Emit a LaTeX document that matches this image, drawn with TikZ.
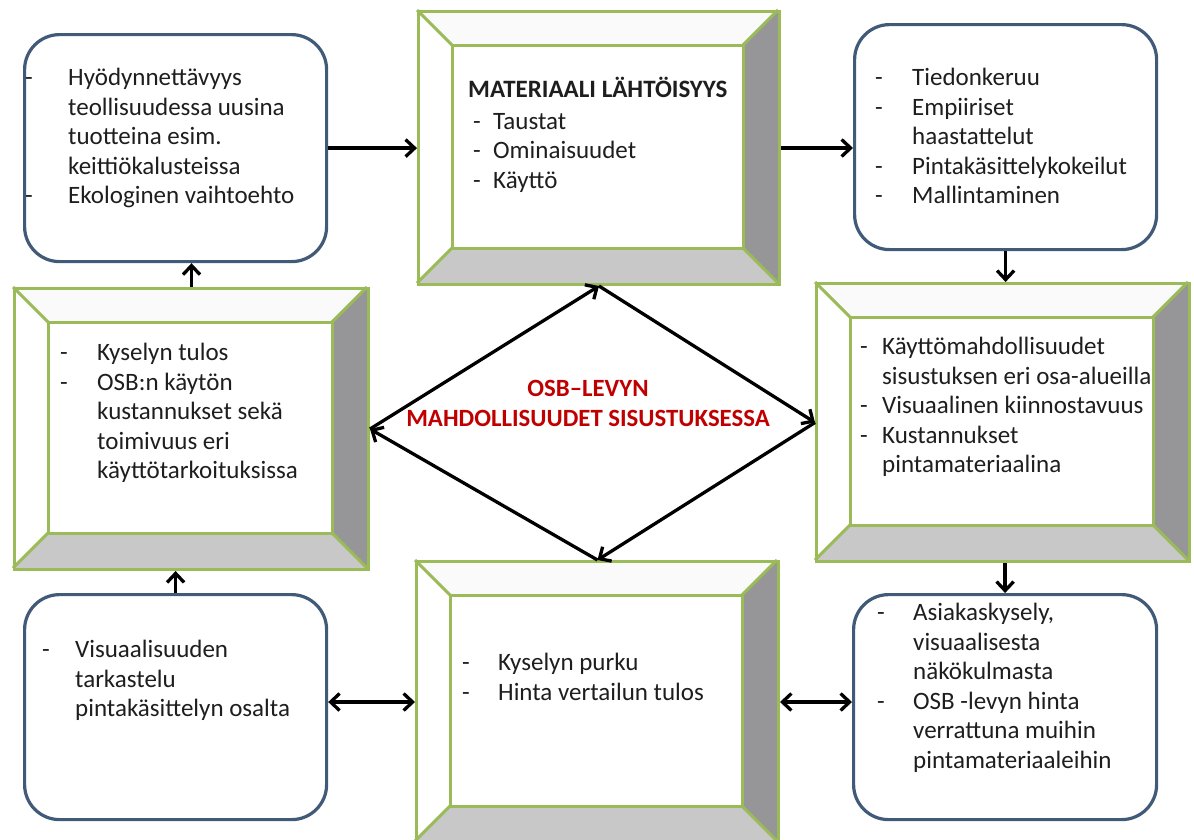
\documentclass[tikz,border=0pt]{standalone}
\usepackage{fontspec}
\setmainfont{Carlito}
\usetikzlibrary{arrows.meta}
\definecolor{bgreen}{RGB}{155,187,89}
\definecolor{bblue}{RGB}{65,90,120}
\definecolor{bevR}{RGB}{150,150,152}
\definecolor{bevB}{RGB}{200,200,200}
\definecolor{bevT}{RGB}{250,250,250}
\definecolor{dred}{RGB}{192,0,0}
\definecolor{txt}{RGB}{30,30,30}
\tikzset{
  bline/.style={draw=bgreen, line width=3pt},
  rbox/.style={draw=bblue, line width=3.2pt, rounded corners=35pt, fill=white, anchor=north west, inner sep=0pt},
  txtnode/.style={anchor=north west, inner sep=0pt, text=txt, font=\fontsize{25}{29.5}\selectfont, align=left},
  tip/.tip={Straight Barb[length=9pt,width=17pt,line width=3.3pt]},
  arr/.style={draw=black, line width=3.3pt, -tip},
  darr/.style={draw=black, line width=3.3pt, tip-tip},
}
\newcommand\bevbox[5]{%
  \fill[bevT] (#2,#3) -- (#4,#3) -- (#4-35,#3+35) -- (#2+35,#3+35) -- cycle;
  \fill[bevR] (#4,#3) -- (#4,#5) -- (#4-35,#5-35) -- (#4-35,#3+35) -- cycle;
  \fill[bevB] (#2,#5) -- (#4,#5) -- (#4-35,#5-35) -- (#2+35,#5-35) -- cycle;
  \draw[bline] (#2+35,#3+35) rectangle (#4-35,#5-35);
  \draw[bline] (#2,#3) -- (#2+35,#3+35) (#4,#3) -- (#4-35,#3+35)
               (#2,#5) -- (#2+35,#5-35) (#4,#5) -- (#4-35,#5-35);
  \node[bline, anchor=north west, minimum width=#4-#2, minimum height=#5-#3, inner sep=0pt] (#1) at (#2,#3) {};
}
\begin{document}
\begin{tikzpicture}[x=1pt,y=-1pt]
\useasboundingbox[fill=white] (0,0) rectangle (1194,839);

% bevel boxes
\bevbox{tm}{417}{10}{778}{283}
\bevbox{ml}{13}{287}{367}{568}
\bevbox{mr}{815}{282}{1188}{560}
\bevbox{bm}{415}{560}{777}{841}

% rounded boxes
\node[rbox, minimum width=302, minimum height=227] (tl) at (23,33) {};
\node[rbox, minimum width=302, minimum height=225] (tr) at (853,23) {};
\node[rbox, minimum width=302, minimum height=225] (bl) at (23,593) {};
\node[rbox, minimum width=303, minimum height=225] (br) at (852,593) {};

% texts
\node[txtnode] (tltxt) at (25,65) {\begin{tabular}{@{}p{43pt}@{}l@{}}
-& Hyödynnettävyys\\
 & teollisuudessa uusina\\
 & tuotteina esim.\\
 & keittiökalusteissa\\
-& Ekologinen vaihtoehto\end{tabular}};

\node[txtnode] (tmtxt) at (468,77) {\begin{tabular}{@{\hspace{5pt}}p{20pt}@{}l@{}}
\multicolumn{2}{@{}l@{}}{\bfseries MATERIAALI LÄHTÖISYYS}\\[2pt]
-& Taustat\\
-& Ominaisuudet\\
-& Käyttö\end{tabular}};

\node[txtnode] (trtxt) at (875,65) {\begin{tabular}{@{}p{37pt}@{}l@{}}
-& Tiedonkeruu\\
-& Empiiriset\\
 & haastattelut\\
-& Pintakäsittelykokeilut\\
-& Mallintaminen\end{tabular}};

\node[txtnode] (mltxt) at (60,340) {\begin{tabular}{@{}p{37pt}@{}l@{}}
-& Kyselyn tulos\\
-& OSB:n käytön\\
 & kustannukset sekä\\
 & toimivuus eri\\
 & käyttötarkoituksissa\end{tabular}};

\node[txtnode] (mrtxt) at (860,334) {\begin{tabular}{@{}p{22pt}@{}l@{}}
-& Käyttömahdollisuudet\\
 & sisustuksen eri osa-alueilla\\
-& Visuaalinen kiinnostavuus\\
-& Kustannukset\\
 & pintamateriaalina\end{tabular}};

\node[txtnode] (bmtxt) at (462,650) {\begin{tabular}{@{}p{36pt}@{}l@{}}
-& Kyselyn purku\\
-& Hinta vertailun tulos\end{tabular}};

\node[txtnode] (bltxt) at (42,637) {\begin{tabular}{@{}p{33pt}@{}l@{}}
-& Visuaalisuuden\\
 & tarkastelu\\
 & pintakäsittelyn osalta\end{tabular}};

\node[txtnode] (brtxt) at (877,600) {\begin{tabular}{@{}p{36pt}@{}l@{}}
-& Asiakaskysely,\\
 & visuaalisesta\\
 & näkökulmasta\\
-& OSB -levyn hinta\\
 & verrattuna muihin\\
 & pintamateriaaleihin\end{tabular}};

\node[inner sep=0pt, text=dred, align=center, font=\bfseries\fontsize{24.8}{30}\selectfont] (title) at (588,403)
  {OSB–LEVYN\\MAHDOLLISUUDET SISUSTUKSESSA};

% arrows
\draw[arr] (tl.east) -- (tl.east -| tm.west);
\draw[arr] (tm.east) -- (tm.east -| tr.west);
\draw[arr] (tr.south) -- (tr.south |- mr.north);
\draw[arr] (br.north |- mr.south) -- (br.north);
\draw[darr] (bm.west -| bl.east) -- (bm.west);
\draw[darr] (bm.east) -- (bm.east -| br.west);
\draw[arr] (bl.north) -- (bl.north |- ml.south);
\draw[arr] (ml.north) -- (ml.north |- tl.south);

% diamond
\draw[arr] (ml.east) -- (tm.south);
\draw[arr] (tm.south) -- (mr.west);
\draw[arr] (mr.west) -- (bm.north);
\draw[arr] (bm.north) -- (ml.east);
\end{tikzpicture}
\end{document}
